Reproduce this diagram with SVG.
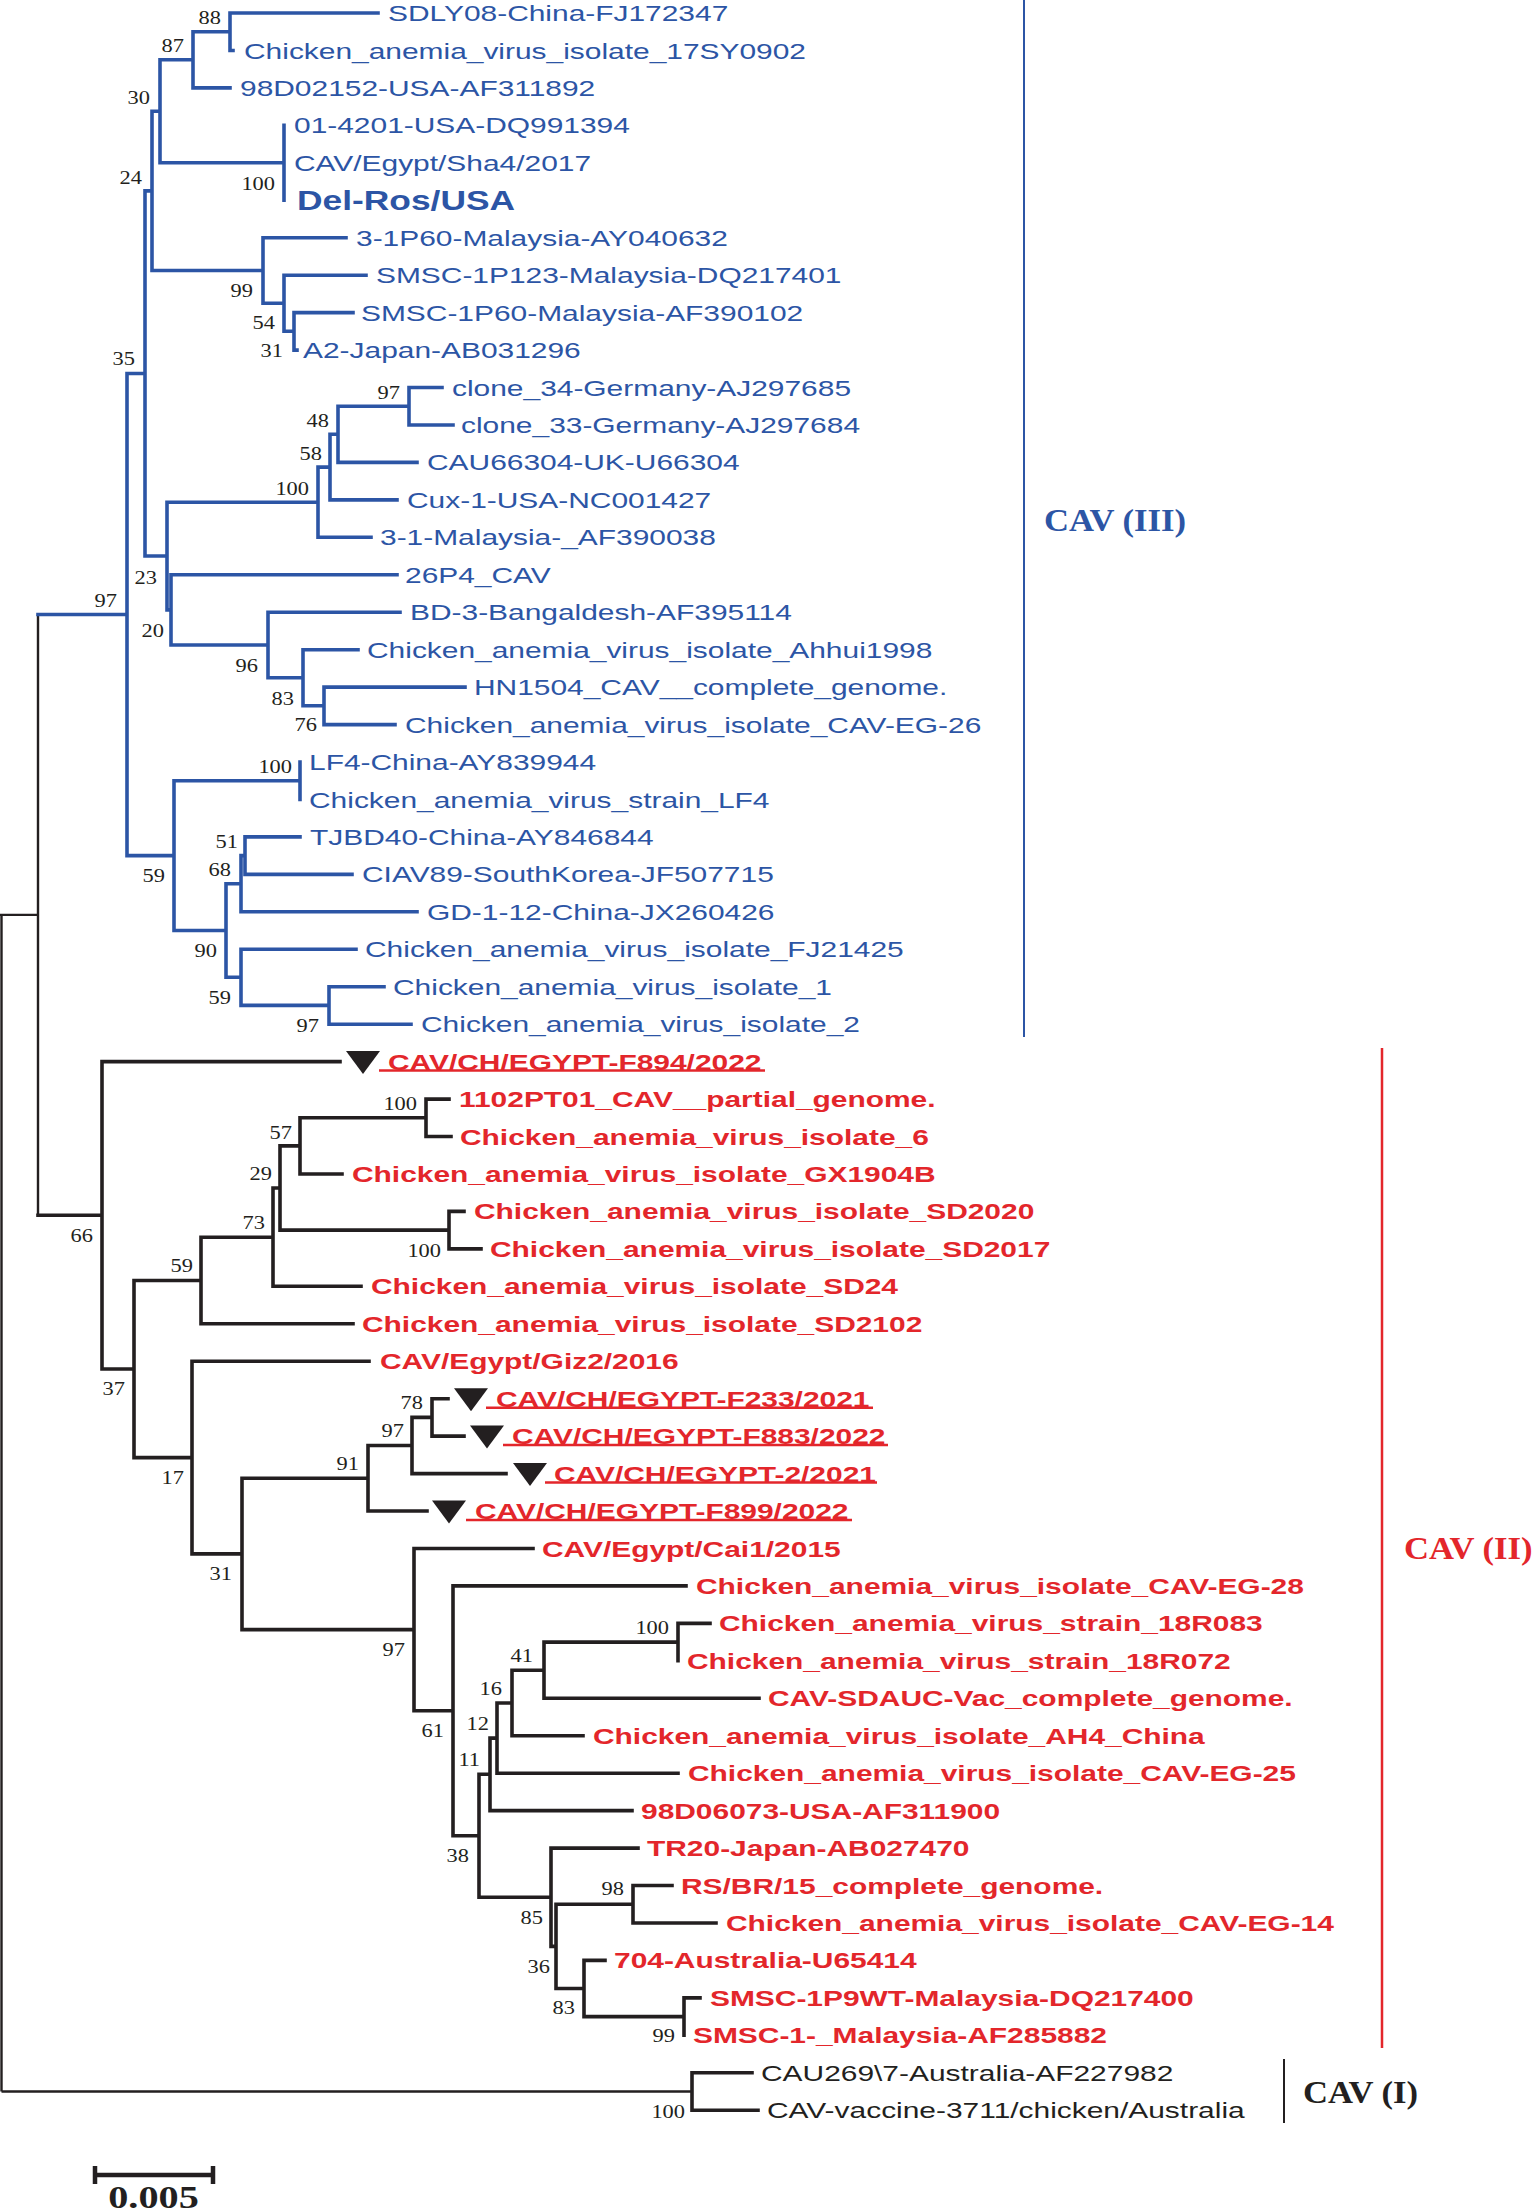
<svg xmlns="http://www.w3.org/2000/svg" width="1537" height="2212" viewBox="0 0 1537 2212">
<style>
.b{fill:none;stroke:#2c55a5;stroke-width:3.6;stroke-linecap:square}
.k{fill:none;stroke:#231f20;stroke-width:3.6;stroke-linecap:square}
.t{fill:none;stroke:#231f20;stroke-width:2.4}
.lb{font-family:"Liberation Sans",Arial,sans-serif;font-size:22px;fill:#2c55a5}
.lr{font-family:"Liberation Sans",Arial,sans-serif;font-size:22px;font-weight:bold;fill:#e3262b}
.lk{font-family:"Liberation Sans",Arial,sans-serif;font-size:22px;fill:#231f20}
.n{font-family:"Liberation Serif","Times New Roman",serif;font-size:19.5px;fill:#231f20;text-anchor:end}
.cl{font-family:"Liberation Serif","Times New Roman",serif;font-weight:bold;font-size:32.5px}
.tri{fill:#231f20}
.ul{stroke:#e3262b;stroke-width:2.5}
</style>
<rect width="1537" height="2212" fill="#ffffff"/>
<g id="connectors">
<path class="t" d="M38 614.5V1215.3M0 914.9H38M1.5 914.9V2091.5M1.5 2091.5H692"/>
<path class="b" d="M38 614.5H127M127 373.5V855.6M127 373.5H145M127 855.6H174
M145 190.9V556M145 190.9H152M145 556H167
M152 111.3V270.5M152 111.3H160M152 270.5H263
M160 59.8V162.8M160 59.8H193M160 162.8H284
M193 31.7V87.9M193 31.7H230M193 87.9H230
M230 13V50.5M230 13H378M230 50.5H233
M284 125.4V200.3
M263 237.7V303.2M263 237.7H346M263 303.2H284
M284 275.2V331.3M284 275.2H366M284 331.3H294
M294 312.6V350.1M294 312.6H353M294 350.1H297
M167 502.2V609.9M167 502.2H318M167 609.9H171
M318 467.1V537.3M318 467.1H330M318 537.3H371
M330 434.3V499.9M330 434.3H338M330 499.9H397
M338 406.2V462.4M338 406.2H409M338 462.4H417
M409 387.5V425M409 387.5H442M409 425H453
M171 574.8V645M171 574.8H397M171 645H268
M268 612.2V677.7M268 612.2H400M268 677.7H303
M303 649.7V705.8M303 649.7H358M303 705.8H324
M324 687.1V724.6M324 687.1H465M324 724.6H395
M174 780.7V930.5M174 780.7H300M174 930.5H226
M300 762V799.5
M226 883.7V977.3M226 883.7H241M226 977.3H241
M241 855.6V911.8M241 855.6H245M241 911.8H417
M245 836.9V874.4M245 836.9H300M245 874.4H352
M241 949.3V1005.4M241 949.3H356M241 1005.4H329
M329 986.7V1024.2M329 986.7H384M329 1024.2H411"/>
<path class="k" d="M38 1215.3H102M102 1061.6V1369M102 1061.6H340M102 1369H134
M134 1280.5V1457.6M134 1280.5H201M134 1457.6H192
M201 1237.2V1323.8M201 1237.2H273M201 1323.8H353
M273 1188V1286.3M273 1188H280M273 1286.3H361
M280 1145.9V1230.1M280 1145.9H300M280 1230.1H449
M300 1117.8V1174M300 1117.8H426M300 1174H342
M426 1099.1V1136.5M426 1099.1H449M426 1136.5H451
M449 1211.4V1248.9M449 1211.4H464M449 1248.9H481
M192 1361.2V1553.9M192 1361.2H369M192 1553.9H242
M242 1478.2V1629.6M242 1478.2H368M242 1629.6H414
M368 1445.5V1511M368 1445.5H412M368 1511H427
M412 1417.4V1473.6M412 1417.4H432M412 1473.6H506
M432 1398.7V1436.1M432 1398.7H448M432 1436.1H464
M414 1548.5V1710.8M414 1548.5H533M414 1710.8H453
M453 1585.9V1835.8M453 1585.9H686M453 1835.8H479
M479 1774.3V1897.2M479 1774.3H490M479 1897.2H551
M490 1738.1V1810.6M490 1738.1H497M490 1810.6H632
M497 1703V1773.2M497 1703H512M497 1773.2H678
M512 1670.2V1735.7M512 1670.2H544M512 1735.7H583
M544 1642.1V1698.3M544 1642.1H678M544 1698.3H759
M678 1623.4V1660.8M678 1623.4H710
M551 1848.1V1946.4M551 1848.1H638M551 1946.4H556
M556 1904.2V1988.5M556 1904.2H633M556 1988.5H584
M633 1885.5V1923M633 1885.5H672M633 1923H716
M584 1960.4V2016.6M584 1960.4H605M584 2016.6H684
M684 1997.9V2035.3M684 1997.9H700
M692 2072.8V2110.2M692 2072.8H752M692 2110.2H758"/>
</g>
<g id="bootstrap">
<text class="n" transform="translate(221 23.6) scale(1.15 1)">88</text>
<text class="n" transform="translate(184 51.6) scale(1.15 1)">87</text>
<text class="n" transform="translate(150 103.6) scale(1.15 1)">30</text>
<text class="n" transform="translate(275 189.6) scale(1.15 1)">100</text>
<text class="n" transform="translate(142 183.6) scale(1.15 1)">24</text>
<text class="n" transform="translate(253 296.6) scale(1.15 1)">99</text>
<text class="n" transform="translate(275 328.6) scale(1.15 1)">54</text>
<text class="n" transform="translate(283 356.6) scale(1.15 1)">31</text>
<text class="n" transform="translate(135 364.6) scale(1.15 1)">35</text>
<text class="n" transform="translate(400 398.6) scale(1.15 1)">97</text>
<text class="n" transform="translate(329 426.6) scale(1.15 1)">48</text>
<text class="n" transform="translate(322 459.6) scale(1.15 1)">58</text>
<text class="n" transform="translate(309 494.6) scale(1.15 1)">100</text>
<text class="n" transform="translate(157 583.6) scale(1.15 1)">23</text>
<text class="n" transform="translate(117 606.6) scale(1.15 1)">97</text>
<text class="n" transform="translate(164 636.6) scale(1.15 1)">20</text>
<text class="n" transform="translate(258 671.6) scale(1.15 1)">96</text>
<text class="n" transform="translate(294 704.6) scale(1.15 1)">83</text>
<text class="n" transform="translate(317 730.6) scale(1.15 1)">76</text>
<text class="n" transform="translate(292 772.6) scale(1.15 1)">100</text>
<text class="n" transform="translate(165 881.6) scale(1.15 1)">59</text>
<text class="n" transform="translate(238 847.6) scale(1.15 1)">51</text>
<text class="n" transform="translate(231 875.6) scale(1.15 1)">68</text>
<text class="n" transform="translate(217 956.6) scale(1.15 1)">90</text>
<text class="n" transform="translate(231 1003.6) scale(1.15 1)">59</text>
<text class="n" transform="translate(319 1031.6) scale(1.15 1)">97</text>
<text class="n" transform="translate(93 1241.6) scale(1.15 1)">66</text>
<text class="n" transform="translate(125 1394.6) scale(1.15 1)">37</text>
<text class="n" transform="translate(193 1271.6) scale(1.15 1)">59</text>
<text class="n" transform="translate(265 1228.6) scale(1.15 1)">73</text>
<text class="n" transform="translate(292 1138.6) scale(1.15 1)">57</text>
<text class="n" transform="translate(272 1179.6) scale(1.15 1)">29</text>
<text class="n" transform="translate(417 1109.6) scale(1.15 1)">100</text>
<text class="n" transform="translate(441 1256.6) scale(1.15 1)">100</text>
<text class="n" transform="translate(184 1483.6) scale(1.15 1)">17</text>
<text class="n" transform="translate(232 1579.6) scale(1.15 1)">31</text>
<text class="n" transform="translate(359 1469.6) scale(1.15 1)">91</text>
<text class="n" transform="translate(404 1436.6) scale(1.15 1)">97</text>
<text class="n" transform="translate(423 1408.6) scale(1.15 1)">78</text>
<text class="n" transform="translate(405 1655.6) scale(1.15 1)">97</text>
<text class="n" transform="translate(444 1736.6) scale(1.15 1)">61</text>
<text class="n" transform="translate(469 1861.6) scale(1.15 1)">38</text>
<text class="n" transform="translate(480 1765.6) scale(1.15 1)">11</text>
<text class="n" transform="translate(489 1729.6) scale(1.15 1)">12</text>
<text class="n" transform="translate(502 1694.6) scale(1.15 1)">16</text>
<text class="n" transform="translate(533 1661.6) scale(1.15 1)">41</text>
<text class="n" transform="translate(669 1633.6) scale(1.15 1)">100</text>
<text class="n" transform="translate(543 1923.6) scale(1.15 1)">85</text>
<text class="n" transform="translate(550 1972.6) scale(1.15 1)">36</text>
<text class="n" transform="translate(624 1894.6) scale(1.15 1)">98</text>
<text class="n" transform="translate(575 2013.6) scale(1.15 1)">83</text>
<text class="n" transform="translate(675 2041.6) scale(1.15 1)">99</text>
<text class="n" transform="translate(685 2117.6) scale(1.15 1)">100</text>
</g>
<g id="leaf01"><text class="lb" transform="translate(388 21) scale(1.36 1)">SDLY08-China-FJ172347</text></g>
<g id="leaf02"><text class="lb" transform="translate(244 58.5) scale(1.36 1)">Chicken_anemia_virus_isolate_17SY0902</text></g>
<g id="leaf03"><text class="lb" transform="translate(240 96) scale(1.36 1)">98D02152-USA-AF311892</text></g>
<g id="leaf04"><text class="lb" transform="translate(294 133.4) scale(1.36 1)">01-4201-USA-DQ991394</text></g>
<g id="leaf05"><text class="lb" transform="translate(294 170.8) scale(1.36 1)">CAV/Egypt/Sha4/2017</text></g>
<g id="leaf06"><text class="lb" style="font-size:27px;font-weight:bold" transform="translate(297 210) scale(1.31 1)">Del-Ros/USA</text></g>
<g id="leaf07"><text class="lb" transform="translate(356 245.7) scale(1.36 1)">3-1P60-Malaysia-AY040632</text></g>
<g id="leaf08"><text class="lb" transform="translate(376 283.2) scale(1.36 1)">SMSC-1P123-Malaysia-DQ217401</text></g>
<g id="leaf09"><text class="lb" transform="translate(361 320.6) scale(1.36 1)">SMSC-1P60-Malaysia-AF390102</text></g>
<g id="leaf10"><text class="lb" transform="translate(303 358.1) scale(1.36 1)">A2-Japan-AB031296</text></g>
<g id="leaf11"><text class="lb" transform="translate(452 395.5) scale(1.36 1)">clone_34-Germany-AJ297685</text></g>
<g id="leaf12"><text class="lb" transform="translate(461 433) scale(1.36 1)">clone_33-Germany-AJ297684</text></g>
<g id="leaf13"><text class="lb" transform="translate(427 470.4) scale(1.36 1)">CAU66304-UK-U66304</text></g>
<g id="leaf14"><text class="lb" transform="translate(407 507.9) scale(1.36 1)">Cux-1-USA-NC001427</text></g>
<g id="leaf15"><text class="lb" transform="translate(380 545.3) scale(1.36 1)">3-1-Malaysia-_AF390038</text></g>
<g id="leaf16"><text class="lb" transform="translate(405 582.8) scale(1.36 1)">26P4_CAV</text></g>
<g id="leaf17"><text class="lb" transform="translate(410 620.2) scale(1.36 1)">BD-3-Bangaldesh-AF395114</text></g>
<g id="leaf18"><text class="lb" transform="translate(367 657.7) scale(1.36 1)">Chicken_anemia_virus_isolate_Ahhui1998</text></g>
<g id="leaf19"><text class="lb" transform="translate(474 695.1) scale(1.36 1)">HN1504_CAV__complete_genome.</text></g>
<g id="leaf20"><text class="lb" transform="translate(405 732.6) scale(1.36 1)">Chicken_anemia_virus_isolate_CAV-EG-26</text></g>
<g id="leaf21"><text class="lb" transform="translate(309 770) scale(1.36 1)">LF4-China-AY839944</text></g>
<g id="leaf22"><text class="lb" transform="translate(309 807.5) scale(1.36 1)">Chicken_anemia_virus_strain_LF4</text></g>
<g id="leaf23"><text class="lb" transform="translate(310 844.9) scale(1.36 1)">TJBD40-China-AY846844</text></g>
<g id="leaf24"><text class="lb" transform="translate(362 882.4) scale(1.36 1)">CIAV89-SouthKorea-JF507715</text></g>
<g id="leaf25"><text class="lb" transform="translate(427 919.8) scale(1.36 1)">GD-1-12-China-JX260426</text></g>
<g id="leaf26"><text class="lb" transform="translate(365 957.3) scale(1.36 1)">Chicken_anemia_virus_isolate_FJ21425</text></g>
<g id="leaf27"><text class="lb" transform="translate(393 994.7) scale(1.36 1)">Chicken_anemia_virus_isolate_1</text></g>
<g id="leaf28"><text class="lb" transform="translate(421 1032.2) scale(1.36 1)">Chicken_anemia_virus_isolate_2</text></g>
<g id="leaf29"><polygon class="tri" points="346,1051 380,1051 363,1074"/><line class="ul" x1="379" y1="1070.6" x2="765" y2="1070.6"/><text class="lr" transform="translate(388 1069.6) scale(1.36 1)">CAV/CH/EGYPT-F894/2022</text></g>
<g id="leaf30"><text class="lr" transform="translate(459 1107.1) scale(1.36 1)">1102PT01_CAV__partial_genome.</text></g>
<g id="leaf31"><text class="lr" transform="translate(460 1144.5) scale(1.36 1)">Chicken_anemia_virus_isolate_6</text></g>
<g id="leaf32"><text class="lr" transform="translate(352 1182) scale(1.36 1)">Chicken_anemia_virus_isolate_GX1904B</text></g>
<g id="leaf33"><text class="lr" transform="translate(474 1219.4) scale(1.36 1)">Chicken_anemia_virus_isolate_SD2020</text></g>
<g id="leaf34"><text class="lr" transform="translate(490 1256.9) scale(1.36 1)">Chicken_anemia_virus_isolate_SD2017</text></g>
<g id="leaf35"><text class="lr" transform="translate(371 1294.3) scale(1.36 1)">Chicken_anemia_virus_isolate_SD24</text></g>
<g id="leaf36"><text class="lr" transform="translate(362 1331.8) scale(1.36 1)">Chicken_anemia_virus_isolate_SD2102</text></g>
<g id="leaf37"><text class="lr" transform="translate(380 1369.2) scale(1.36 1)">CAV/Egypt/Giz2/2016</text></g>
<g id="leaf38"><polygon class="tri" points="454,1388.2 488,1388.2 471,1411.2"/><line class="ul" x1="486" y1="1407.7" x2="873" y2="1407.7"/><text class="lr" transform="translate(496 1406.7) scale(1.36 1)">CAV/CH/EGYPT-F233/2021</text></g>
<g id="leaf39"><polygon class="tri" points="470,1425.6 504,1425.6 487,1448.6"/><line class="ul" x1="503" y1="1445.1" x2="888" y2="1445.1"/><text class="lr" transform="translate(512 1444.1) scale(1.36 1)">CAV/CH/EGYPT-F883/2022</text></g>
<g id="leaf40"><polygon class="tri" points="513,1463.1 547,1463.1 530,1486.1"/><line class="ul" x1="545" y1="1482.6" x2="877" y2="1482.6"/><text class="lr" transform="translate(554 1481.6) scale(1.36 1)">CAV/CH/EGYPT-2/2021</text></g>
<g id="leaf41"><polygon class="tri" points="432,1500.5 466,1500.5 449,1523.5"/><line class="ul" x1="466" y1="1520" x2="852" y2="1520"/><text class="lr" transform="translate(475 1519) scale(1.36 1)">CAV/CH/EGYPT-F899/2022</text></g>
<g id="leaf42"><text class="lr" transform="translate(542 1556.5) scale(1.36 1)">CAV/Egypt/Cai1/2015</text></g>
<g id="leaf43"><text class="lr" transform="translate(696 1593.9) scale(1.36 1)">Chicken_anemia_virus_isolate_CAV-EG-28</text></g>
<g id="leaf44"><text class="lr" transform="translate(719 1631.4) scale(1.36 1)">Chicken_anemia_virus_strain_18R083</text></g>
<g id="leaf45"><text class="lr" transform="translate(687 1668.8) scale(1.36 1)">Chicken_anemia_virus_strain_18R072</text></g>
<g id="leaf46"><text class="lr" transform="translate(768 1706.3) scale(1.36 1)">CAV-SDAUC-Vac_complete_genome.</text></g>
<g id="leaf47"><text class="lr" transform="translate(593 1743.7) scale(1.36 1)">Chicken_anemia_virus_isolate_AH4_China</text></g>
<g id="leaf48"><text class="lr" transform="translate(688 1781.2) scale(1.36 1)">Chicken_anemia_virus_isolate_CAV-EG-25</text></g>
<g id="leaf49"><text class="lr" transform="translate(641 1818.6) scale(1.36 1)">98D06073-USA-AF311900</text></g>
<g id="leaf50"><text class="lr" transform="translate(647 1856.1) scale(1.36 1)">TR20-Japan-AB027470</text></g>
<g id="leaf51"><text class="lr" transform="translate(681 1893.5) scale(1.36 1)">RS/BR/15_complete_genome.</text></g>
<g id="leaf52"><text class="lr" transform="translate(726 1931) scale(1.36 1)">Chicken_anemia_virus_isolate_CAV-EG-14</text></g>
<g id="leaf53"><text class="lr" transform="translate(614 1968.4) scale(1.36 1)">704-Australia-U65414</text></g>
<g id="leaf54"><text class="lr" transform="translate(710 2005.9) scale(1.36 1)">SMSC-1P9WT-Malaysia-DQ217400</text></g>
<g id="leaf55"><text class="lr" transform="translate(693 2043.3) scale(1.36 1)">SMSC-1-_Malaysia-AF285882</text></g>
<g id="leaf56"><text class="lk" transform="translate(761 2080.8) scale(1.36 1)">CAU269\7-Australia-AF227982</text></g>
<g id="leaf57"><text class="lk" transform="translate(767 2118.2) scale(1.36 1)">CAV-vaccine-3711/chicken/Australia</text></g>
<g id="clade3"><line x1="1024" y1="0" x2="1024" y2="1037" stroke="#2c55a5" stroke-width="2"/><text class="cl" fill="#2c55a5" transform="translate(1044 531) scale(1.065 1)">CAV (III)</text></g>
<g id="clade2"><line x1="1382" y1="1048" x2="1382" y2="2048" stroke="#e3262b" stroke-width="2.5"/><text class="cl" fill="#e3262b" transform="translate(1404 1559) scale(1.065 1)">CAV (II)</text></g>
<g id="clade1"><line x1="1284" y1="2059" x2="1284" y2="2123" stroke="#231f20" stroke-width="2"/><text class="cl" fill="#231f20" transform="translate(1303 2103) scale(1.065 1)">CAV (I)</text></g>
<g id="scalebar"><path d="M95 2175H213M95 2166V2184M213 2166V2184" fill="none" stroke="#231f20" stroke-width="4.5"/><text class="cl" fill="#231f20" text-anchor="middle" transform="translate(153.5 2208) scale(1.24 1)">0.005</text></g>
</svg>
